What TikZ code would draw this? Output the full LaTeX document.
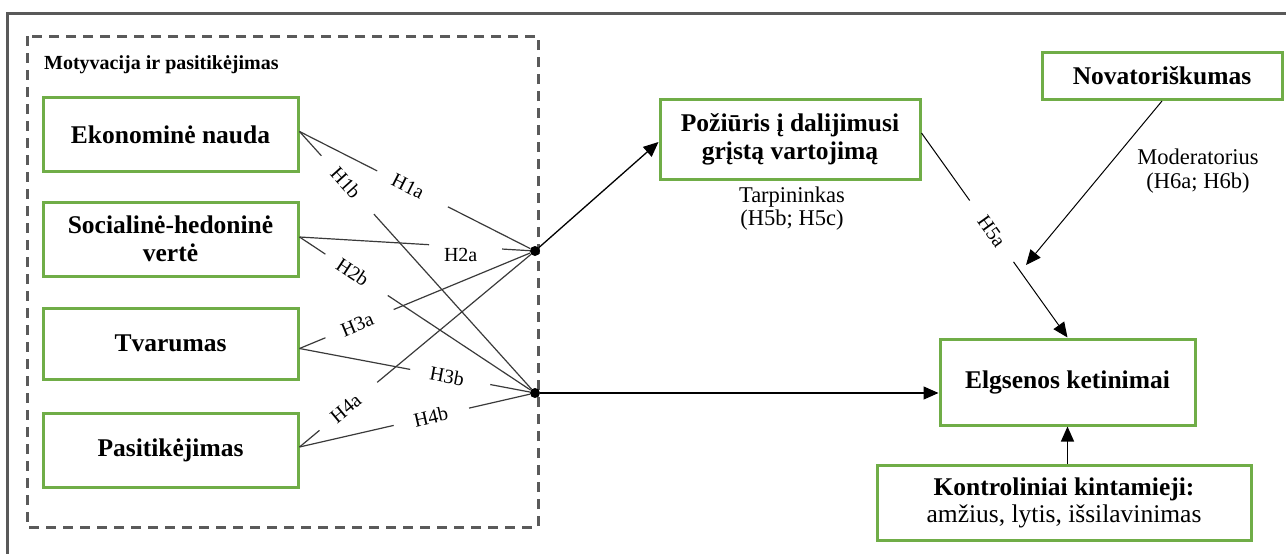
\documentclass[tikz,border=0pt]{standalone}
\usepackage{fontspec}
\setmainfont{Liberation Serif}
\usetikzlibrary{arrows.meta,calc}
\definecolor{boxgreen}{HTML}{70AD47}
\definecolor{framegray}{HTML}{595959}
\definecolor{dashgray}{HTML}{5A5A5A}
\definecolor{pathgray}{HTML}{3A3A3A}

% hypothesis path: start, end, gap from #3 to #4, label at #5
\newcommand\hypline[6]{%
  \draw[hpath] (#1) -- ($(#1)!#3!(#2)$);
  \draw[hpath] ($(#1)!#4!(#2)$) -- (#2);
  \path (#1) -- (#2) node[hlabel, pos=#5, sloped] {#6};
}

\begin{document}
\begin{tikzpicture}[x=1pt, y=-1pt,
  boxnode/.style={draw=boxgreen, line width=3pt, fill=white, align=center,
    inner sep=0pt, font=\fontsize{25.5}{28}\selectfont\bfseries},
  hlabel/.style={font=\fontsize{20}{22}\selectfont, inner sep=1pt},
  note/.style={font=\fontsize{22.5}{23.5}\selectfont, align=center, inner sep=0pt},
  hpath/.style={draw=pathgray, line width=1.2pt},
  arrowpath/.style={draw=black, line width=1.3pt, -{Triangle[length=15pt,width=13pt]}},
  dot/.style={circle, fill=black, inner sep=0pt, minimum size=10pt}]

\useasboundingbox (0,0) rectangle (1286,554);

% outer frame (runs off the right and bottom edges)
\draw[framegray, line width=3pt] (7,600) -- (7,13) -- (1320,13);

% group of motivation factors
\draw[dashgray, line width=3pt, dash pattern=on 10pt off 7pt] (27,36) rectangle (538,527);
\node[anchor=west, inner sep=0pt, font=\fontsize{20}{22}\selectfont\bfseries] (grp) at (44,65) {Motyvacija ir pasitikėjimas};

% factor boxes
\node[boxnode, minimum width=255pt, minimum height=74pt] (eko) at (170.5,134.5) {Ekonominė nauda};
\node[boxnode, minimum width=255pt, minimum height=74pt] (soc) at (170.5,239) {Socialinė-hedoninė\\vertė};
\node[boxnode, minimum width=255pt, minimum height=71pt] (tva) at (170.5,343.5) {Tvarumas};
\node[boxnode, minimum width=255pt, minimum height=74pt] (pas) at (170.5,450) {Pasitikėjimas};

% outcome side
\node[boxnode, minimum width=260pt, minimum height=80pt] (poz) at (790,139) {Požiūris į dalijimusi\\grįstą vartojimą};
\node[boxnode, minimum width=240pt, minimum height=47pt] (nov) at (1162,76) {Novatoriškumas};
\node[boxnode, minimum width=255pt, minimum height=86pt] (elg) at (1067.5,382) {Elgsenos ketinimai};
\node[boxnode, minimum width=374pt, minimum height=75pt, font=\fontsize{25.5}{27}\selectfont\bfseries] (kont) at (1064,503) {Kontroliniai kintamieji:\\\mdseries amžius, lytis, išsilavinimas};

\node[note] (tarp) at (792,208.5) {Tarpininkas\\(H5b; H5c)};
\node[note] (moder) at (1198,171) {Moderatorius\\(H6a; H6b)};

% junction points
\node[dot] (d1) at (535,251) {};
\node[dot] (d2) at (535,393) {};

% start points on the factor boxes
\coordinate (es) at ([yshift=3pt]eko.east);
\coordinate (ss) at ([yshift=2pt]soc.east);
\coordinate (ts) at ([yshift=-5pt]tva.east);
\coordinate (ps) at ([yshift=3pt]pas.east);

\hypline{es}{d1}{0.33}{0.63}{0.47}{H1a}
\hypline{es}{d2}{0.093}{0.316}{0.2}{H1b}
\draw[hpath] (ss) -- ($(ss)!0.55!(d1)$);
\draw[hpath] ($(ss)!0.86!(d1)$) -- (d1);
\path (ss) -- (d1) node[hlabel, pos=0.7, yshift=-8pt] (h2a) {H2a};
\hypline{ss}{d2}{0.11}{0.375}{0.23}{H2b}
\hypline{ts}{d1}{0.11}{0.40}{0.25}{H3a}
\hypline{ts}{d2}{0.47}{0.81}{0.64}{H3b}
\hypline{ps}{d1}{0.085}{0.33}{0.2}{H4a}
\hypline{ps}{d2}{0.40}{0.72}{0.57}{H4b}

% arrows
\draw[arrowpath] (d1) -- ([yshift=-3pt]poz.west);
\draw[arrowpath] (d2) -- (d2 -| elg.west);

\coordinate (pout) at ([yshift=6pt]poz.east);
\draw[draw=black, line width=1pt] (pout) -- ($(pout)!0.33!(elg.north)$);
\draw[arrowpath, line width=1pt] ($(pout)!0.63!(elg.north)$) -- (elg.north);
\path (pout) -- (elg.north) node[hlabel, pos=0.48, sloped] (h5a) {H5a};

\coordinate (modend) at (1026,265);
\draw[arrowpath, line width=1pt] (nov.south) -- (modend);

\draw[arrowpath] (kont.north -| elg.south) -- (elg.south);
\end{tikzpicture}
\end{document}
